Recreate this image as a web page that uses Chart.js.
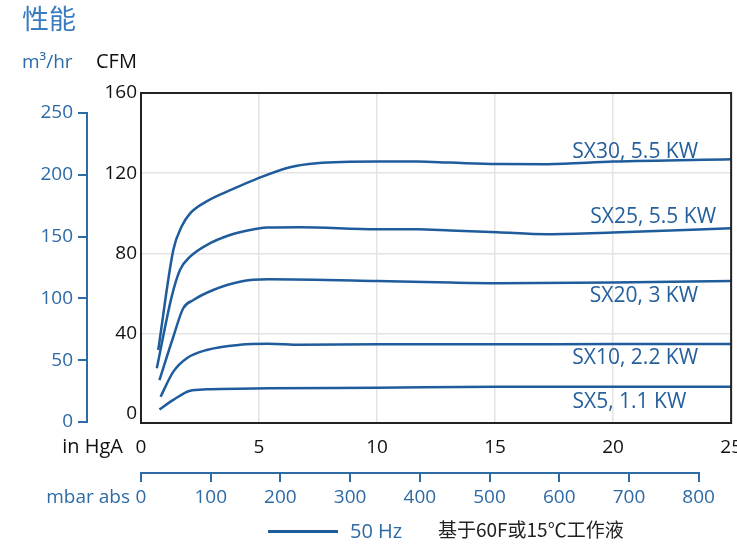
<!DOCTYPE html>
<html>
<head>
<meta charset="utf-8">
<script src="https://cdn.jsdelivr.net/npm/chart.js@4.4.1/dist/chart.umd.min.js"></script>
<style>
html, body { margin: 0; padding: 0; background: #fff; overflow: hidden; }
#wrap { position: relative; width: 755px; height: 551px; }
.t { position: absolute; font-family: 'Open Sans', sans-serif; line-height: 1; white-space: nowrap; }
.blue { color: #2d6aa6; }
</style>
</head>
<body>
<div id="wrap">
  <canvas id="chart-area"></canvas>
  <div class="t" style="left:22px;top:4px;font-family:'Noto Sans CJK SC';font-size:27px;color:#3a7cc0">性能</div>
  <div class="t blue" style="left:22px;top:52px;font-size:19px">m³/hr</div>
  <div class="t" style="left:96px;top:51px;font-size:20px;color:#111">CFM</div>
  <div class="t" style="right:632px;top:436px;font-size:20px;color:#111">in HgA</div>
  <div class="t blue" style="right:625px;top:487px;font-size:19px">mbar abs</div>
  <div style="position:absolute;left:268px;top:530px;width:70px;height:3px;background:#1f5c9c"></div>
  <div class="t blue" style="left:350px;top:521px;font-size:20px">50 Hz</div>
  <div class="t" style="left:438px;top:519px;font-family:'Noto Sans CJK SC';font-size:19px;color:#222">基于60F或15℃工作液</div>
</div>
<script>
// 50 Hz 性能曲线: 真空度 (in HgA) -> 抽气量 (CFM)
var inHg30 = [0.73, 1.37, 1.72, 2.08, 2.78, 3.91, 4.9, 6.31, 7.44, 10, 11.7, 13.1, 15.1, 17.2, 20, 25];
var cfm30  = [31.9, 81.8, 93.4, 100, 106, 112.2, 117.2, 123, 125, 125.8, 125.8, 125.3, 124.6, 124.5, 125.8, 127];
var inHg25 = [0.67, 1.30, 1.65, 2.08, 2.78, 3.77, 4.62, 5.33, 6.74, 10, 11.7, 13.1, 15.1, 17.2, 20, 25];
var cfm25  = [22.8, 58.5, 71.8, 78.4, 84.2, 89.2, 91.7, 92.9, 93.1, 92.1, 92.1, 91.5, 90.6, 89.6, 90.4, 92.6];
var inHg20 = [0.78, 1.37, 1.79, 2.22, 3.06, 4.19, 5.39, 10, 13.1, 15.1, 20, 25];
var cfm20  = [16.9, 38.5, 52.7, 56.8, 61.8, 65.9, 67.1, 66.3, 65.5, 65.2, 65.5, 66.3];
var inHg10 = [0.83, 1.37, 1.94, 2.78, 4.19, 5.39, 6.74, 10, 15.1, 20, 25];
var cfm10  = [8.6, 21.1, 27.8, 31.9, 34.5, 35.0, 34.5, 34.7, 34.7, 34.9, 34.9];
var inHg5  = [0.78, 1.37, 2.08, 2.78, 5.39, 10, 15.1, 20, 25];
var cfm5   = [2.3, 7.0, 11.6, 12.3, 12.8, 13.1, 13.6, 13.6, 13.6];

var models = ['SX30, 5.5 KW', 'SX25, 5.5 KW', 'SX20, 3 KW', 'SX10, 2.2 KW', 'SX5, 1.1 KW'];
var modelX = [inHg30, inHg25, inHg20, inHg10, inHg5];
var modelY = [cfm30, cfm25, cfm20, cfm10, cfm5];
// where the model names sit (in HgA, CFM)
var nameAtX = [23.6, 24.36, 23.6, 23.6, 23.1];
var nameAtY = [130.6, 98.2, 58.8, 27.9, 6.0];

var cfmTicks  = [0, 40, 80, 120, 160];
var m3Ticks   = [0, 50, 100, 150, 200, 250];
var inHgTicks = [0, 5, 10, 15, 20, 25];
var mbarTicks = [0, 100, 200, 300, 400, 500, 600, 700, 800];

var blue = '#2d6aa6';
var lineBlue = '#1f5c9c';

function asTicks(list) {
  return function(scale) { scale.ticks = list.map(function(v) { return { value: v }; }); };
}

var datasets = models.map(function(name, i) {
  return {
    label: name,
    data: modelX[i].map(function(x, j) { return { x: x, y: modelY[i][j] }; }),
    borderColor: lineBlue,
    borderWidth: 2.5,
    pointRadius: 0,
    fill: false,
    cubicInterpolationMode: 'monotone'
  };
});

var extras = {
  id: 'extras',
  afterDraw: function(chart) {
    var ctx = chart.ctx, a = chart.chartArea, s = chart.scales;
    ctx.save();
    ctx.strokeStyle = '#222';
    ctx.lineWidth = 2;
    ctx.strokeRect(a.left, a.top, a.right - a.left, a.bottom - a.top);

    ctx.strokeStyle = blue;
    ctx.lineCap = 'square';
    ctx.beginPath();
    ctx.moveTo(s.m3.right - 1, s.m3.getPixelForValue(0));
    ctx.lineTo(s.m3.right - 1, s.m3.getPixelForValue(250));
    ctx.moveTo(s.mbar.getPixelForValue(0), s.mbar.top + 1);
    ctx.lineTo(s.mbar.getPixelForValue(800), s.mbar.top + 1);
    ctx.stroke();

    ctx.font = '21px "Open Sans"';
    ctx.fillStyle = '#255f9c';
    ctx.textAlign = 'right';
    ctx.textBaseline = 'middle';
    models.forEach(function(name, i) {
      ctx.fillText(name, s.x.getPixelForValue(nameAtX[i]), s.y.getPixelForValue(nameAtY[i]));
    });
    ctx.restore();
  }
};

Chart.defaults.font.family = "'Open Sans', sans-serif";
Chart.defaults.font.size = 19;

var config = {
  type: 'line',
  data: { datasets: datasets },
  options: {
    responsive: true,
    maintainAspectRatio: false,
    animation: false,
    layout: { padding: { top: 93, left: 0, right: 14, bottom: 39 } },
    plugins: { legend: { display: false }, tooltip: { enabled: false } },
    scales: {
      x: {
        type: 'linear', position: 'bottom', weight: 0,
        min: 0, max: 25,
        afterBuildTicks: asTicks(inHgTicks),
        afterFit: function(scale) { scale.height = 49; },
        grid: { color: '#e4e4e4', lineWidth: 1.5, drawTicks: false },
        border: { display: false },
        ticks: { color: '#111', padding: 13 }
      },
      mbar: {
        axis: 'x', type: 'linear', position: 'bottom', weight: 1,
        min: 0, max: 25 * 33.864,
        afterBuildTicks: asTicks(mbarTicks),
        afterFit: function(scale) { scale.height = 40; },
        grid: { drawOnChartArea: false, color: blue, lineWidth: 2, tickLength: 10 },
        border: { display: false },
        ticks: { color: blue, padding: 4 }
      },
      y: {
        type: 'linear', position: 'left', weight: 0,
        min: -4.5, max: 160,
        afterBuildTicks: asTicks(cfmTicks),
        afterFit: function(scale) { scale.width = 53; },
        grid: {
          color: function(c) { return c.tick && c.tick.value === 0 ? 'rgba(0,0,0,0)' : '#e4e4e4'; },
          lineWidth: 1.5, drawTicks: false
        },
        border: { display: false },
        ticks: { color: '#111', padding: 4 }
      },
      m3: {
        axis: 'y', type: 'linear', position: 'left', weight: 1,
        min: -0.8, max: 266.2,
        afterBuildTicks: asTicks(m3Ticks),
        afterFit: function(scale) { scale.width = 88; },
        grid: { drawOnChartArea: false, color: blue, lineWidth: 2, tickLength: 10 },
        border: { display: false },
        ticks: { color: blue, padding: 5 }
      }
    }
  },
  plugins: [extras]
};

var ctx = document.getElementById('chart-area').getContext('2d');
window.myChart = new Chart(ctx, config);
</script>
</body>
</html>
